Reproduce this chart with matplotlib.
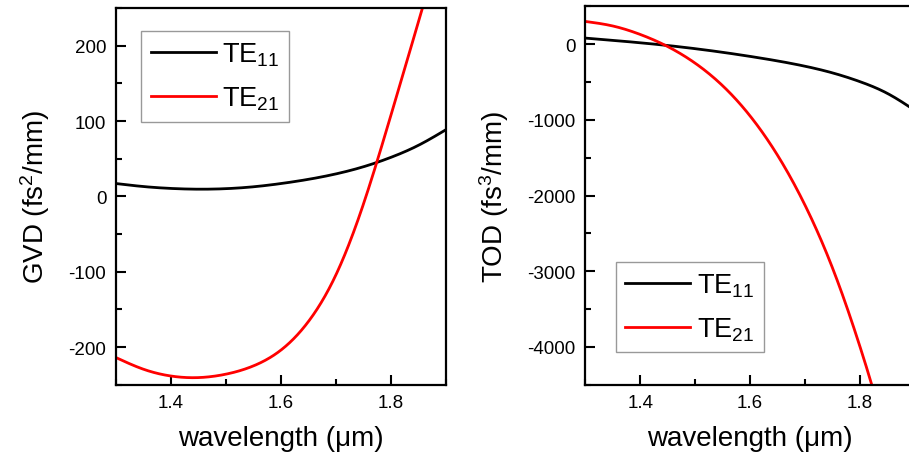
import numpy as np
import matplotlib
matplotlib.use("Agg")
import matplotlib.pyplot as plt
from matplotlib.ticker import MultipleLocator

plt.rcParams['font.family'] = ['Liberation Sans', 'DejaVu Sans']
plt.rcParams['mathtext.fontset'] = 'custom'
plt.rcParams['mathtext.rm'] = 'Liberation Sans'
plt.rcParams['mathtext.it'] = 'Liberation Sans'
plt.rcParams['mathtext.bf'] = 'Liberation Sans'
plt.rcParams['axes.unicode_minus'] = False

# ---- data ----
wl_gvd = [1.30, 1.35, 1.40, 1.45, 1.50, 1.55, 1.60, 1.65, 1.70, 1.75, 1.80, 1.85, 1.90]
gvd_te11 = [17, 13, 10.5, 9.5, 10.2, 12.7, 17, 22.6, 29.8, 39.3, 51.8, 67.8, 88.5]
wl_gvd21 = [1.30, 1.35, 1.40, 1.44, 1.50, 1.55, 1.60, 1.65, 1.70, 1.75, 1.80, 1.85, 1.87]
gvd_te21 = [-214, -229.5, -238.5, -240.7, -236, -225, -204, -166, -104, -10, 108, 232, 282]

wl_tod = [1.30, 1.35, 1.40, 1.45, 1.50, 1.55, 1.60, 1.65, 1.70, 1.75, 1.80, 1.85, 1.90]
tod_te11 = [80, 50, 18, -18, -60, -108, -162, -222, -292, -380, -496, -652, -877]
wl_tod21 = [1.30, 1.35, 1.40, 1.45, 1.50, 1.55, 1.60, 1.65, 1.70, 1.75, 1.80, 1.82, 1.83]
tod_te21 = [300, 240, 128, -32, -252, -550, -950, -1470, -2130, -2960, -4000, -4470, -4720]

labels = [r'TE$_{11}$', r'TE$_{21}$']
xticks = [1.4, 1.6, 1.8]
xlabel = 'wavelength (μm)'
ylabels = [r'GVD (fs$^2$/mm)', r'TOD (fs$^3$/mm)']


def smooth(x, y, n=400):
    x = np.asarray(x, float); y = np.asarray(y, float)
    xs = np.linspace(x[0], x[-1], n)
    h = np.diff(x)
    nn = len(x)
    A = np.zeros((nn, nn)); b = np.zeros(nn)
    A[0, 0] = A[-1, -1] = 1
    for i in range(1, nn - 1):
        A[i, i - 1] = h[i - 1]; A[i, i] = 2 * (h[i - 1] + h[i]); A[i, i + 1] = h[i]
        b[i] = 3 * ((y[i + 1] - y[i]) / h[i] - (y[i] - y[i - 1]) / h[i - 1])
    c = np.linalg.solve(A, b)
    bb = (y[1:] - y[:-1]) / h - h * (2 * c[:-1] + c[1:]) / 3
    d = (c[1:] - c[:-1]) / (3 * h)
    idx = np.clip(np.searchsorted(x, xs) - 1, 0, nn - 2)
    dx = xs - x[idx]
    ys = y[idx] + bb[idx] * dx + c[idx] * dx ** 2 + d[idx] * dx ** 3
    return xs, ys


fig = plt.figure(figsize=(9.09, 4.64), dpi=100)
W, H = 909, 464
ax1 = fig.add_axes([116 / W, 1 - 385.7 / H, 330 / W, (385.7 - 9) / H])
ax2 = fig.add_axes([585.3 / W, 1 - 385.7 / H, 329.7 / W, (385.7 - 7.3) / H])

lw = 2.0
for ax in (ax1, ax2):
    for s in ax.spines.values():
        s.set_linewidth(1.6)
    ax.tick_params(which='both', direction='in', top=False, right=False, labelsize=13.5,
                   width=1.5, pad=7)
    ax.tick_params(which='major', length=7)
    ax.tick_params(which='minor', length=4.5)
    ax.set_xlim(1.3, 1.9)
    ax.set_xticks(xticks)
    ax.xaxis.set_minor_locator(MultipleLocator(0.1))
    ax.set_xlabel(xlabel, fontsize=20, labelpad=10)

x, y = smooth(wl_gvd, gvd_te11)
ax1.plot(x, y, color='black', lw=lw, label=labels[0])
x, y = smooth(wl_gvd21, gvd_te21)
ax1.plot(x, y, color='red', lw=lw, label=labels[1])
ax1.set_ylim(-250, 250)
ax1.set_yticks([-200, -100, 0, 100, 200])
ax1.yaxis.set_minor_locator(MultipleLocator(50))
ax1.set_ylabel(ylabels[0], fontsize=20, labelpad=12)

x, y = smooth(wl_tod, tod_te11)
ax2.plot(x, y, color='black', lw=lw, label=labels[0])
x, y = smooth(wl_tod21, tod_te21)
ax2.plot(x, y, color='red', lw=lw, label=labels[1])
ax2.set_ylim(-4500, 500)
ax2.set_yticks([-4000, -3000, -2000, -1000, 0])
ax2.yaxis.set_minor_locator(MultipleLocator(500))
ax2.set_ylabel(ylabels[1], fontsize=20, labelpad=12)

legkw = dict(fontsize=19.5, frameon=True, fancybox=False, handlelength=2.4,
             borderaxespad=0, borderpad=0.35, labelspacing=0.6, handletextpad=0.25)
l1 = ax1.legend(loc='upper left', bbox_to_anchor=(0.076, 0.938), **legkw)
l2 = ax2.legend(loc='lower left', bbox_to_anchor=(0.093, 0.086), **legkw)
for lg in (l1, l2):
    lg.get_frame().set_edgecolor('#808080')
    lg.get_frame().set_linewidth(1.0)

fig.savefig('out.png', dpi=100)
